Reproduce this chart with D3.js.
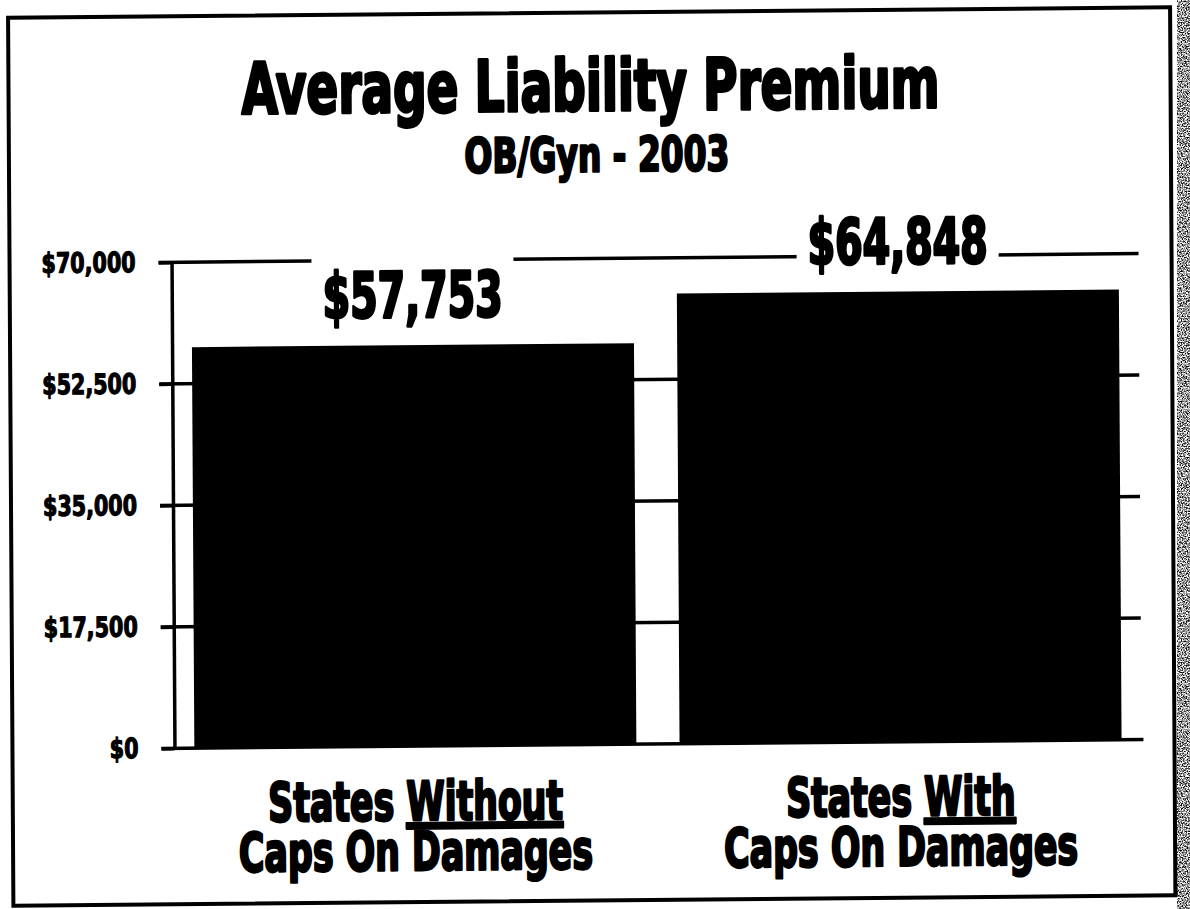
<!DOCTYPE html>
<html>
<head>
<meta charset="utf-8">
<script src="https://cdn.jsdelivr.net/npm/d3@7"></script>
<style>
  body { margin: 0; background: #fff; }
  text {
    font-family: 'DejaVu Sans', sans-serif;
    font-stretch: condensed;
    font-weight: bold;
    fill: #000;
    stroke: #000;
    stroke-linejoin: round;
  }
</style>
</head>
<body>
<div id="graf"></div>
<script>
// -- Datos --
categorias = ['sin', 'con']
lineaUno = ['States ', 'States ']
subrayado = ['Without', 'With']
lineaDos = ['Caps On Damages', 'Caps On Damages']
primas = [57753, 64848]
etiquetas = ['$57,753', '$64,848']
marcas = [0, 17500, 35000, 52500, 70000]
marcasTexto = ['$0', '$17,500', '$35,000', '$52,500', '$70,000']
titulo = 'Average Liability Premium'
subtitulo = 'OB/Gyn - 2003'

datos = categorias.map((c, i) => ({ cat: c, valor: primas[i], etiqueta: etiquetas[i],
                                    l1: lineaUno[i], sub: subrayado[i], l2: lineaDos[i] }))

ancho_total = 1190
alto_total = 909

svg = d3.select('#graf').append('svg')
        .attr('width', ancho_total)
        .attr('height', alto_total)

// ruido del escaneo en el borde derecho
defs = svg.append('defs')
ruido = defs.append('filter').attr('id', 'ruido')
            .attr('x', 0).attr('y', 0).attr('width', '100%').attr('height', '100%')
ruido.append('feTurbulence').attr('type', 'fractalNoise')
     .attr('baseFrequency', 0.8).attr('numOctaves', 2).attr('seed', 7)
ruido.append('feColorMatrix').attr('type', 'matrix')
     .attr('values', '0 0 0 0 0  0 0 0 0 0  0 0 0 0 0  3 0 0 0 -1.1')

svg.append('rect')
   .attr('x', 1177).attr('y', 0).attr('width', 13).attr('height', alto_total)
   .attr('fill', '#000')
   .attr('filter', 'url(#ruido)')

// la hoja escaneada esta un poco torcida
lienzo = svg.append('g')
            .attr('transform', 'translate(650,500) matrix(1,-0.009,0.006,1,0,0) translate(-650,-500)')

// marco
lienzo.append('rect')
      .attr('x', 11).attr('y', 12)
      .attr('width', 1162).attr('height', 888)
      .attr('fill', 'none')
      .attr('stroke', '#000')
      .attr('stroke-width', 4)

// ajusta el texto al ancho de la letra original (el mas largo del grupo mide anchoRef)
function ajustar(sel, anchoRef) {
  largos = sel.nodes().map(n => n.getComputedTextLength())
  k = anchoRef / d3.max(largos)
  sel.each(function (d, i) {
    d3.select(this).attr('textLength', largos[i] * k).attr('lengthAdjust', 'spacingAndGlyphs')
  })
}

// -- Escaladores --
y = d3.scaleLinear()
      .domain([0, 70000])
      .range([744, 258])

x = d3.scaleBand()
      .domain(categorias)
      .range([173, 1140])
      .paddingInner(0.089)
      .paddingOuter(0.041)

// lineas de fondo
lienzo.append('g')
      .selectAll('line')
      .data(marcas.filter(d => d > 0))
      .enter()
      .append('line')
        .attr('x1', 160).attr('x2', 1140)
        .attr('y1', d => y(d)).attr('y2', d => y(d))
        .attr('stroke', '#000')
        .attr('stroke-width', 3.5)

// barras
lienzo.append('g')
      .selectAll('rect')
      .data(datos)
      .enter()
      .append('rect')
        .attr('x', d => x(d.cat))
        .attr('y', d => y(d.valor))
        .attr('width', x.bandwidth())
        .attr('height', d => y(0) - y(d.valor))
        .attr('fill', '#000')

// eje Y
yAxisCall = d3.axisLeft(y)
              .tickValues(marcas)
              .tickFormat((d, i) => marcasTexto[i])
              .tickSize(13)
              .tickSizeOuter(0)
              .tickPadding(23)

yAxisGroup = lienzo.append('g')
                   .attr('transform', `translate(${x.range()[0]}, 0)`)
                   .call(yAxisCall)
yAxisGroup.attr('font-size', 28).attr('font-family', null)
yAxisGroup.select('.domain').attr('stroke-width', 3.5)
yAxisGroup.selectAll('.tick line').attr('stroke-width', 3.5)
yAxisGroup.selectAll('.tick text').attr('stroke-width', 1.2)
ajustar(yAxisGroup.selectAll('.tick text'), 94)

// linea base
lienzo.append('line')
      .attr('x1', 160).attr('x2', 1142)
      .attr('y1', y(0)).attr('y2', y(0))
      .attr('stroke', '#000')
      .attr('stroke-width', 3.5)

// titulos
t1 = lienzo.append('text')
           .attr('x', 593).attr('y', 110)
           .attr('text-anchor', 'middle')
           .attr('font-size', 71)
           .attr('stroke-width', 3.2)
           .text(titulo)
ajustar(t1, 698)

t2 = lienzo.append('text')
           .attr('x', 599).attr('y', 171)
           .attr('text-anchor', 'middle')
           .attr('font-size', 48)
           .attr('stroke-width', 2.4)
           .text(subtitulo)
ajustar(t2, 265)

// etiquetas de valor, con fondo blanco que corta la linea superior
valores = lienzo.append('g')
                .selectAll('g')
                .data(datos)
                .enter()
                .append('g')

valores.append('rect').attr('fill', '#fff')
valores.append('text')
       .attr('x', d => x(d.cat) + x.bandwidth() / 2)
       .attr('y', d => y(d.valor) - 28)
       .attr('text-anchor', 'middle')
       .attr('font-size', 63)
       .attr('stroke-width', 3)
       .text(d => d.etiqueta)
ajustar(valores.selectAll('text'), 180)
valores.each(function () {
  caja = d3.select(this).select('text').node().getBBox()
  d3.select(this).select('rect')
    .attr('x', caja.x - 11).attr('y', caja.y - 10)
    .attr('width', caja.width + 22).attr('height', caja.height + 12)
})

// etiquetas de categoria
cats = lienzo.append('g')
             .selectAll('g')
             .data(datos)
             .enter()
             .append('g')

uno = cats.append('text')
          .attr('x', d => x(d.cat) + x.bandwidth() / 2)
          .attr('y', 818)
          .attr('text-anchor', 'middle')
          .attr('font-size', 54)
          .attr('stroke-width', 2.6)
uno.append('tspan').text(d => d.l1)
uno.append('tspan').style('text-decoration', 'underline').text(d => d.sub)

dos = cats.append('text')
          .attr('x', d => x(d.cat) + x.bandwidth() / 2)
          .attr('y', 868)
          .attr('text-anchor', 'middle')
          .attr('font-size', 54)
          .attr('stroke-width', 2.6)
          .text(d => d.l2)

// mismo factor para las dos lineas
largoRef = d3.max(dos.nodes(), n => n.getComputedTextLength())
kCat = 354 / largoRef
uno.each(function () {
  d3.select(this).attr('textLength', this.getComputedTextLength() * kCat).attr('lengthAdjust', 'spacingAndGlyphs')
})
dos.each(function () {
  d3.select(this).attr('textLength', this.getComputedTextLength() * kCat).attr('lengthAdjust', 'spacingAndGlyphs')
})
</script>
</body>
</html>
